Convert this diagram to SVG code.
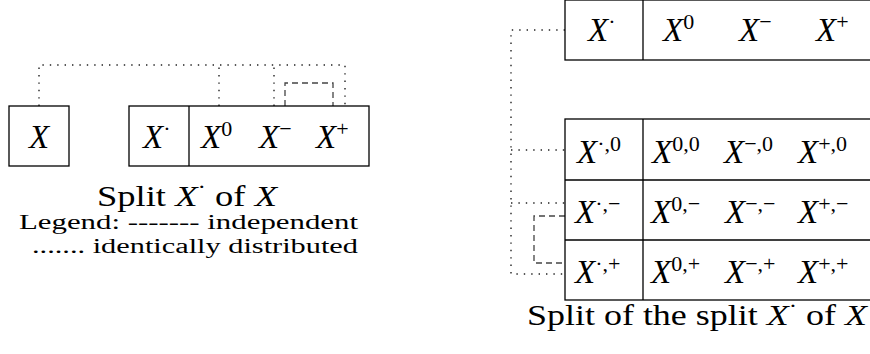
<svg xmlns="http://www.w3.org/2000/svg" width="870" height="354" viewBox="0 0 870 354">
<style>
.box{fill:#fff;stroke:#000;stroke-width:1.3}
.ln{stroke:#000;stroke-width:1.3;fill:none}
.dot{stroke:#222;stroke-width:1.4;fill:none;stroke-dasharray:1.4 6}
.dash{stroke:#444;stroke-width:1.3;fill:none;stroke-dasharray:6 4}
.m{font-family:"Liberation Serif","Times New Roman",serif;font-style:italic;font-size:33px;fill:#000}
.s{font-style:normal;font-size:22px}
.t{font-family:"Liberation Serif","Times New Roman",serif;fill:#000}
</style>
<g id="connectors">
<path class="dot" d="M39,106 V65 H345 V106"/>
<path class="dot" d="M219,106 V65"/>
<path class="dot" d="M274,106 V65"/>
<path class="dash" d="M285,106 V83 H333 V106"/>
<path class="dot" d="M565,30 H511 V274 H565"/>
<path class="dot" d="M511,150 H565"/>
<path class="dot" d="M511,203 H565"/>
<path class="dash" d="M565,216 H534 V263 H565"/>
</g>
<g id="node-X">
<rect class="box" x="9" y="106" width="60" height="60"/>
<text class="m" x="39" y="148" text-anchor="middle">X</text>
</g>
<g id="node-split">
<rect class="box" x="129" y="106" width="240" height="60"/>
<path class="ln" d="M189,106 V166"/>
<text class="m" x="143" y="148">X<tspan class="s" dy="-12">·</tspan></text>
<text class="m" x="201" y="148">X<tspan class="s" dy="-12">0</tspan></text>
<text class="m" x="259" y="148">X<tspan class="s" dy="-12">−</tspan></text>
<text class="m" x="316" y="148">X<tspan class="s" dy="-12">+</tspan></text>
</g>
<g id="caption-left">
<text class="t" x="187" y="206" font-size="30" text-anchor="middle" textLength="180" lengthAdjust="spacingAndGlyphs">Split <tspan font-style="italic">X</tspan><tspan font-size="21" dy="-12">·</tspan><tspan dy="12"> of </tspan><tspan font-style="italic">X</tspan></text>
<text class="t" x="19" y="229" font-size="20" textLength="339" lengthAdjust="spacingAndGlyphs">Legend:  ------- independent</text>
<text class="t" x="32" y="253" font-size="20" textLength="326" lengthAdjust="spacingAndGlyphs">.......  identically distributed</text>
</g>
<g id="node-top">
<rect class="box" x="565" y="0" width="330" height="60"/>
<path class="ln" d="M643,0 V60"/>
<text class="m" x="588" y="41">X<tspan class="s" dy="-12">·</tspan></text>
<text class="m" x="663" y="41">X<tspan class="s" dy="-12">0</tspan></text>
<text class="m" x="739" y="41">X<tspan class="s" dy="-12">−</tspan></text>
<text class="m" x="816" y="41">X<tspan class="s" dy="-12">+</tspan></text>
</g>
<g id="node-table">
<rect class="box" x="565" y="119" width="330" height="181"/>
<path class="ln" d="M643,119 V300 M565,180 H870 M565,240 H870"/>
<text class="m" x="577" y="163">X<tspan class="s" dy="-12">·,0</tspan></text>
<text class="m" x="652" y="163">X<tspan class="s" dy="-12">0,0</tspan></text>
<text class="m" x="724" y="163">X<tspan class="s" dy="-12">−,0</tspan></text>
<text class="m" x="798" y="163">X<tspan class="s" dy="-12">+,0</tspan></text>
<text class="m" x="575" y="223">X<tspan class="s" dy="-12">·,−</tspan></text>
<text class="m" x="651" y="223">X<tspan class="s" dy="-12">0,−</tspan></text>
<text class="m" x="725" y="223">X<tspan class="s" dy="-12">−,−</tspan></text>
<text class="m" x="798" y="223">X<tspan class="s" dy="-12">+,−</tspan></text>
<text class="m" x="575" y="283">X<tspan class="s" dy="-12">·,+</tspan></text>
<text class="m" x="651" y="283">X<tspan class="s" dy="-12">0,+</tspan></text>
<text class="m" x="725" y="283">X<tspan class="s" dy="-12">−,+</tspan></text>
<text class="m" x="798" y="283">X<tspan class="s" dy="-12">+,+</tspan></text>
</g>
<g id="caption-right">
<text class="t" x="527" y="325" font-size="30" textLength="340" lengthAdjust="spacingAndGlyphs">Split of the split <tspan font-style="italic">X</tspan><tspan font-size="21" dy="-12">·</tspan><tspan dy="12"> of </tspan><tspan font-style="italic">X</tspan></text>
</g>
</svg>
